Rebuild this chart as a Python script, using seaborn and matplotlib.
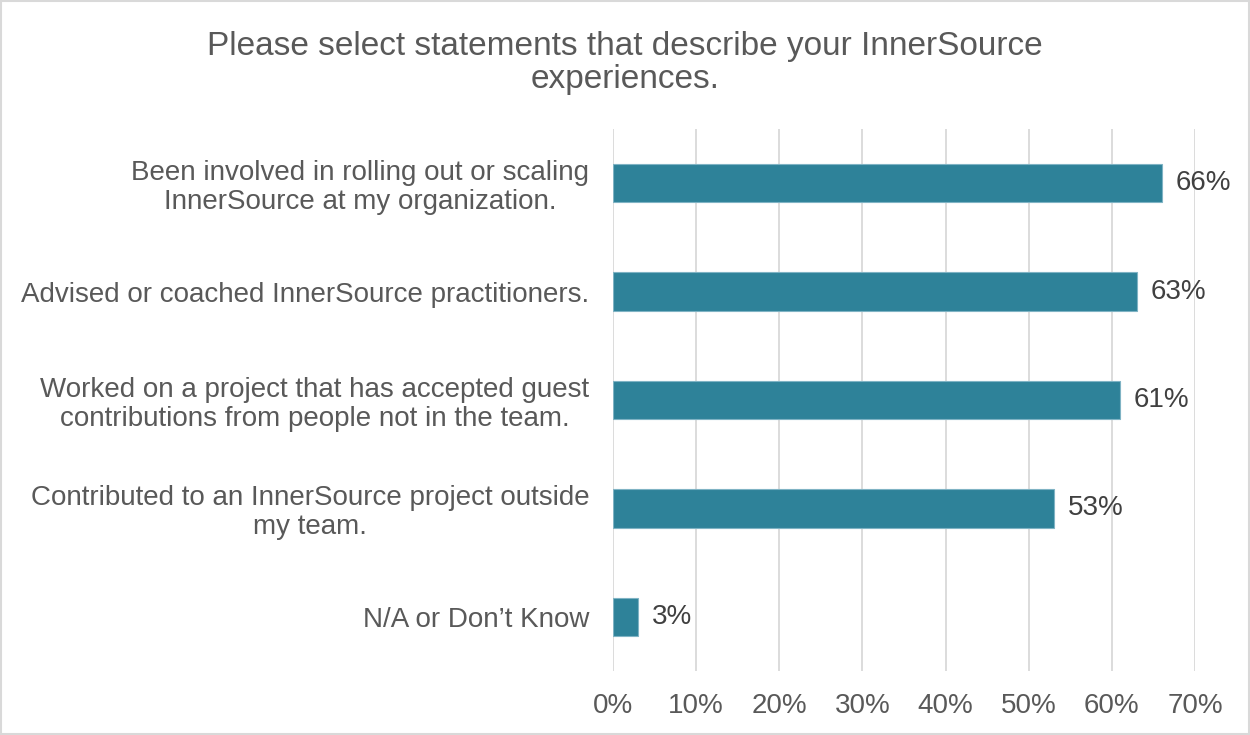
import matplotlib
matplotlib.use("Agg")
import matplotlib.pyplot as plt
import seaborn as sns
import pandas as pd
from matplotlib.ticker import PercentFormatter
from matplotlib.patches import Rectangle

statements = [
    "Been involved in rolling out or scaling\nInnerSource at my organization.",
    "Advised or coached InnerSource practitioners.",
    "Worked on a project that has accepted guest\ncontributions from people not in the team.",
    "Contributed to an InnerSource project outside\nmy team.",
    "N/A or Don\u2019t Know",
]
shares = [66, 63, 61, 53, 3]
value_labels = ["66%", "63%", "61%", "53%", "3%"]
x_ticks = [0, 10, 20, 30, 40, 50, 60, 70]

df = pd.DataFrame({"statement": statements, "share": shares})

sns.set_theme(style="white")
plt.rcParams["font.family"] = ["Liberation Sans", "DejaVu Sans"]

text_color = "#595959"
bar_color = "#2E8299"

fig = plt.figure(figsize=(12.5, 7.35), dpi=100)
ax = fig.add_axes([0.4904, 0.0871, 0.4656, 0.7374])

sns.barplot(data=df, x="share", y="statement", orient="h", color=bar_color,
            saturation=1, width=0.355, edgecolor="#7fb3c4", linewidth=0.8, ax=ax)

ax.set_xlim(0, 70)
ax.set_ylim(len(statements) - 0.5, -0.5)
ax.set_xticks(x_ticks)
ax.xaxis.set_major_formatter(PercentFormatter(decimals=0))
ax.grid(axis="x", color="#d9d9d9", linewidth=1.3)
ax.set_axisbelow(True)
for s in ax.spines.values():
    s.set_visible(False)
ax.set_xlabel("")
ax.set_ylabel("")
ax.tick_params(axis="x", length=0, pad=16, labelsize=20, labelcolor=text_color)
ax.tick_params(axis="y", length=0, pad=17, labelsize=20, labelcolor=text_color)
for lbl in ax.get_yticklabels():
    lbl.set_multialignment("center")
    lbl.set_linespacing(1.15)

for i, (v, t) in enumerate(zip(shares, value_labels)):
    ax.annotate(t, xy=(v, i), xytext=(10, 0), textcoords="offset points",
                ha="left", va="center", fontsize=20, color="#404040")

fig.text(0.5, 0.914, "Please select statements that describe your InnerSource\nexperiences.",
         ha="center", va="center", fontsize=24, color=text_color, linespacing=1.1)

fig.patches.append(Rectangle((0.001, 0.001), 0.998, 0.997, transform=fig.transFigure,
                             fill=False, edgecolor="#d9d9d9", linewidth=1.5))

fig.savefig("out.png", dpi=100, facecolor="white")
